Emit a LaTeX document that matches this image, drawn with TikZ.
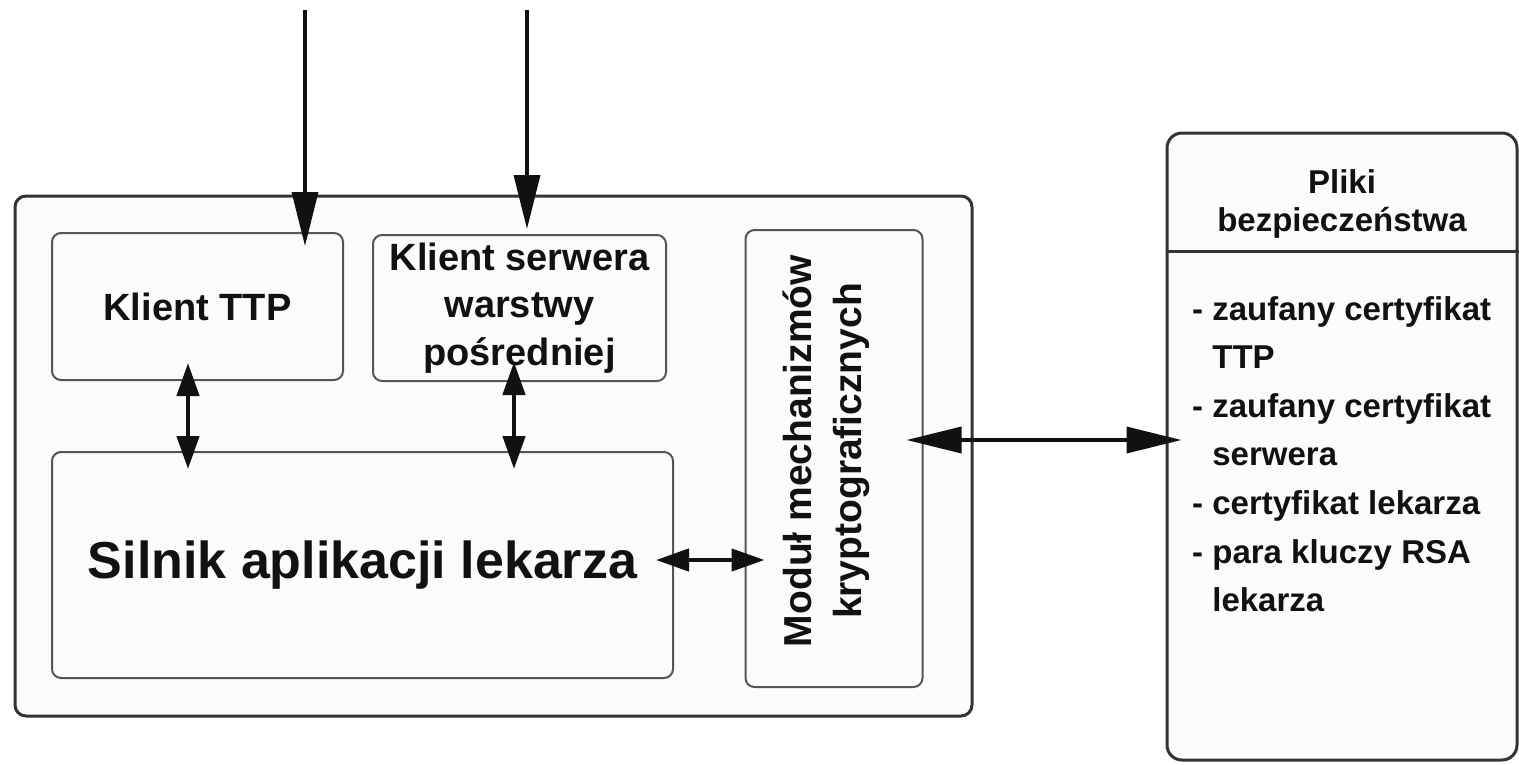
\documentclass[tikz,border=0pt]{standalone}
\usepackage{fontspec}
\setmainfont{Liberation Sans}
\usetikzlibrary{arrows.meta,calc}
\definecolor{frameline}{HTML}{333333}
\definecolor{boxline}{HTML}{555555}
\definecolor{boxfill}{HTML}{FBFBFA}
\definecolor{ink}{HTML}{111111}
\begin{document}
\begin{tikzpicture}[x=1pt,y=-1pt,
  container/.style={draw=frameline, line width=3pt, fill=boxfill, rounded corners=11pt, inner sep=0pt},
  box/.style={draw=boxline, line width=2pt, fill=boxfill, rounded corners=9pt, inner sep=0pt,
    align=center, text=ink, font=\bfseries\fontsize{38}{47.5}\selectfont},
  bigarrow/.style={line width=3.5pt, ink, -{Triangle[length=54pt,width=26pt]}},
  bigdouble/.style={line width=3.5pt, ink, {Triangle[length=55pt,width=26pt]}-{Triangle[length=55pt,width=26pt]}},
  smalldouble/.style={line width=4.5pt, ink, {Triangle[length=33pt,width=22pt]}-{Triangle[length=33pt,width=22pt]}},
  listtext/.style={anchor=base west, inner sep=0pt, text=ink, font=\bfseries\fontsize{33}{40}\selectfont}
]
\useasboundingbox (0,0) rectangle (1519,764);
\fill[white] (0,0) rectangle (1519,764);

% application container
\node[container, minimum width=957pt, minimum height=520pt] (app) at (493.5,456) {};

% inner modules
\node[box, minimum width=291pt, minimum height=147pt] (ttp) at (197.5,306.5) {Klient TTP};
\node[box, minimum width=293pt, minimum height=146pt] (kss) at (519.5,308) {Klient serwera\\warstwy\\pośredniej};
\node[box, minimum width=621pt, minimum height=226pt, font=\bfseries\fontsize{52}{60}\selectfont] (silnik) at (362.5,565) {Silnik aplikacji lekarza};
\node[box, minimum width=177pt, minimum height=457pt] (mod) at (834,458.5) {};
\node[rotate=90, inner sep=0pt, align=center, text=ink, font=\bfseries\fontsize{39}{50}\selectfont] (modtxt) at (826,451) {Moduł mechanizmów\\kryptograficznych};

% security files
\node[container, rounded corners=15pt, minimum width=350pt, minimum height=627pt] (pliki) at (1342,446.5) {};
\draw[frameline, line width=3pt] ($(pliki.north west)+(0,120)$) -- ($(pliki.north east)+(0,120)$);
\node[inner sep=0pt, align=center, text=ink, font=\bfseries\fontsize{33}{38}\selectfont] (plikititle) at (1342,204) {Pliki\\bezpieczeństwa};
\node[listtext] (l1) at (1192,320) {- zaufany certyfikat};
\node[listtext] (l2) at (1192,368.6) {\phantom{- }TTP};
\node[listtext] (l3) at (1192,417.2) {- zaufany certyfikat};
\node[listtext] (l4) at (1192,465.8) {\phantom{- }serwera};
\node[listtext] (l5) at (1192,514.4) {- certyfikat lekarza};
\node[listtext] (l6) at (1192,563) {- para kluczy RSA};
\node[listtext] (l7) at (1192,611.6) {\phantom{- }lekarza};

% incoming connections
\coordinate (in1) at (305,10);
\coordinate (in2) at (527,10);
\draw[bigarrow] (in1) -- ($(in1 |- ttp.north)+(0,14)$);
\draw[bigarrow] (in2) -- ($(in2 |- kss.north)+(0,-5)$);

% internal connections
\draw[smalldouble] ($(ttp.south)+(-9.5,-18)$) -- ($(ttp.south |- silnik.north)+(-9.5,18)$);
\draw[smalldouble] ($(kss.south)+(-5.5,-20)$) -- ($(kss.south |- silnik.north)+(-5.5,18)$);
\draw[smalldouble] ($(silnik.east)+(-18,-5)$) -- ($(mod.west |- silnik.east)+(20,-5)$);

% module to security files
\draw[bigdouble] ($(mod.east)+(-17,-18.5)$) -- ($(pliki.west |- mod.east)+(16,-18.5)$);
\end{tikzpicture}
\end{document}
